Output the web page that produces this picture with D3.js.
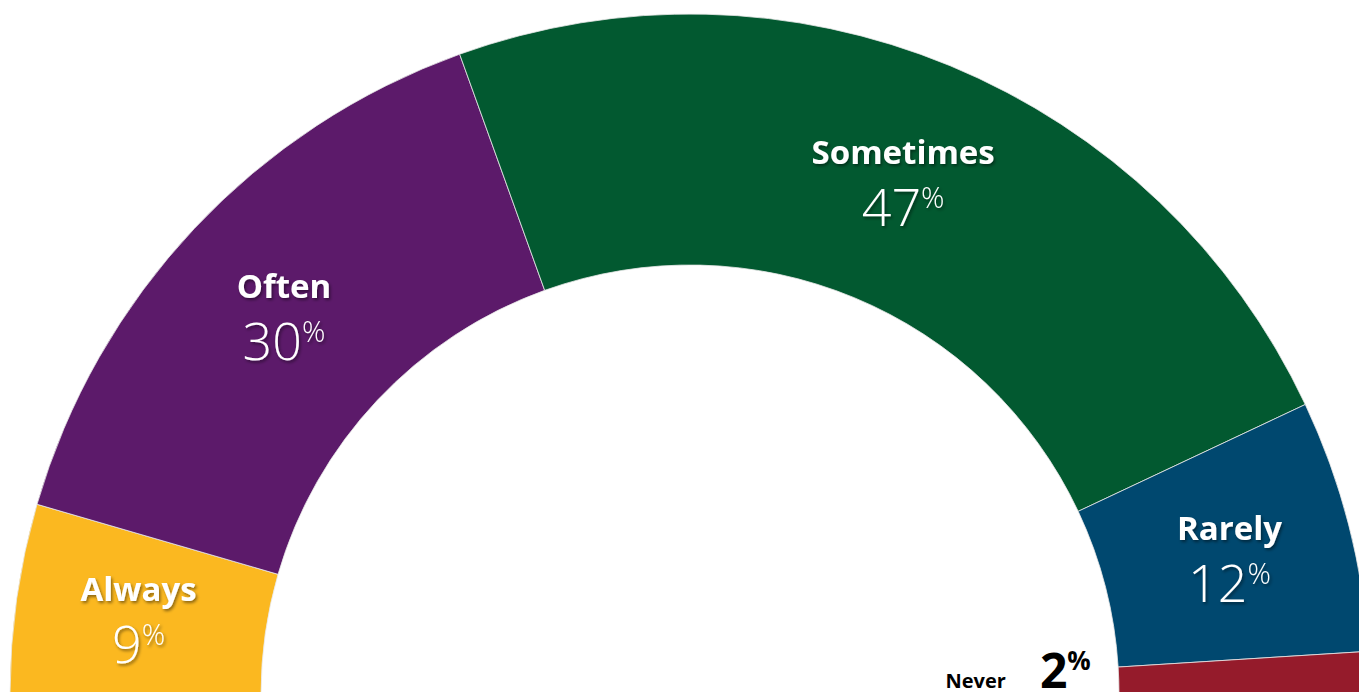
<!DOCTYPE html>
<html><head><meta charset="utf-8">
<script src="https://cdn.jsdelivr.net/npm/d3@7"></script>
<style>
html,body{margin:0;padding:0;background:#fff;overflow:hidden;}
svg{display:block;}
</style></head>
<body>
<svg id="chart" width="1359" height="692"></svg>
<script>
const categories = ["Always", "Often", "Sometimes", "Rarely", "Never"];
const values = [9, 30, 47, 12, 2];
const colors = ["#FBB820", "#5C1A6A", "#025930", "#00486F", "#951B2B"];

const W = 1359, H = 692;
const cx = 690, cy = 694, R = 680, r = 429;
const svg = d3.select("#chart");

const defs = svg.append("defs");
const f = defs.append("filter").attr("id","shadow").attr("x","-20%").attr("y","-20%").attr("width","140%").attr("height","160%");
f.append("feDropShadow").attr("dx",1.5).attr("dy",2).attr("stdDeviation",1.6).attr("flood-color","#000").attr("flood-opacity",0.45);

const data = categories.map((c,i)=>({cat:c, value:values[i], color:colors[i]}));
const pie = d3.pie().value(d=>d.value).sort(null).startAngle(-Math.PI/2).endAngle(Math.PI/2);
const arcs = pie(data);
const arc = d3.arc().innerRadius(r).outerRadius(R);
const labelArc = d3.arc().innerRadius(557).outerRadius(557);

const g = svg.append("g").attr("transform",`translate(${cx},${cy})`);
g.selectAll("path.slice").data(arcs).enter().append("path")
  .attr("class","slice")
  .attr("d",arc)
  .attr("fill",d=>d.data.color)
  .attr("stroke","#e8e8e8").attr("stroke-width",0.8);

const font = "'Segoe UI','Open Sans','Noto Sans',sans-serif";
const inside = arcs.filter(d=>d.data.cat!=="Never");
const lab = g.selectAll("g.lab").data(inside).enter().append("g")
  .attr("class","lab")
  .attr("transform",d=>{const [x,y]=labelArc.centroid(d);return `translate(${x},${y+2})`;})
  .attr("filter","url(#shadow)");
lab.append("text")
  .attr("text-anchor","middle").attr("y",-17)
  .attr("font-family",font).attr("font-weight",700).attr("font-size",33)
  .attr("fill","#fff").text(d=>d.data.cat);
const pt = lab.append("text")
  .attr("text-anchor","middle").attr("y",45)
  .attr("font-family",font).attr("font-weight",300).attr("font-size",52)
  .attr("fill","#fff");
pt.append("tspan").text(d=>d.data.value);
pt.append("tspan").attr("font-size",29).attr("dy",-18).text("%");

// Never label (outside, in the hole)
const nv = arcs.find(d=>d.data.cat==="Never");
const mid = (nv.startAngle+nv.endAngle)/2;
const nx = Math.sin(mid)*(r-28);
const nt = g.append("text").attr("text-anchor","end")
  .attr("x",nx).attr("y",-6)
  .attr("font-family",font).attr("font-weight",700).attr("fill","#000");
nt.append("tspan").attr("font-size",20).text("Never");
nt.append("tspan").attr("font-size",48).attr("dx",34).text(nv.data.value);
nt.append("tspan").attr("font-size",26).attr("dy",-18).text("%");
</script>
</body></html>
